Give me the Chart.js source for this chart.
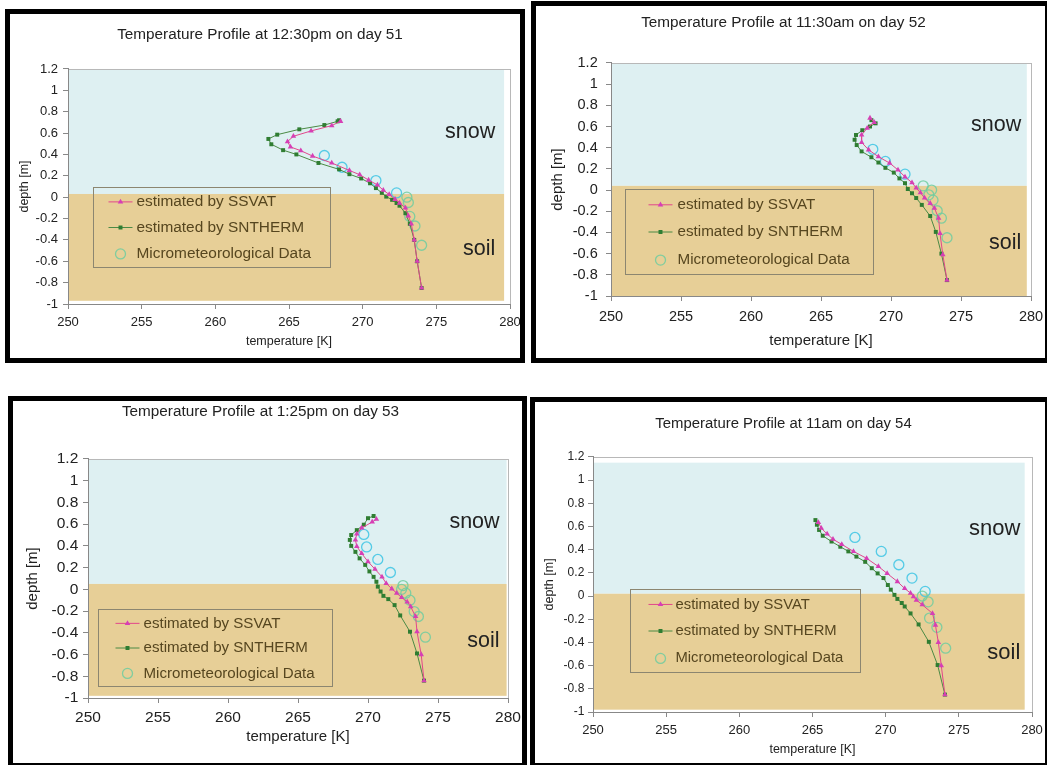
<!DOCTYPE html>
<html>
<head>
<meta charset="utf-8">
<title>Temperature profiles</title>
<script src="https://cdn.jsdelivr.net/npm/chart.js@4.4.0/dist/chart.umd.min.js"></script>
<style>
  html, body { margin: 0; padding: 0; background: #fff; overflow: hidden; }
  .panel { position: absolute; border: 5px solid #000; box-sizing: border-box; background: #fff; overflow: hidden; }
  .panel canvas { display: block; }
</style>
</head>
<body>
<div class="panel" style="left:5px;top:9px;width:520px;height:354px"><canvas id="c51" width="510" height="344"></canvas></div>
<div class="panel" style="left:531px;top:1px;width:519px;height:362px"><canvas id="c52" width="509" height="352"></canvas></div>
<div class="panel" style="left:8px;top:396px;width:519px;height:372px"><canvas id="c53" width="509" height="362"></canvas></div>
<div class="panel" style="left:530px;top:397px;width:520px;height:371px"><canvas id="c54" width="510" height="361"></canvas></div>

<script>
// axes
var xTicks = [250, 255, 260, 265, 270, 275, 280];
var yTicks = [-1, -0.8, -0.6, -0.4, -0.2, 0, 0.2, 0.4, 0.6, 0.8, 1, 1.2];
var seriesNames = ["estimated by SSVAT", "estimated by SNTHERM", "Micrometeorological Data"];

// [temperature K, depth m]
var ssvat51 = [[268.5,0.71],[267.9,0.67],[266.5,0.62],[265.3,0.57],[264.9,0.52],[265.1,0.47],[265.8,0.435],[266.6,0.385],[267.9,0.32],[269.1,0.25],[269.8,0.21],[270.4,0.16],[271.0,0.115],[271.4,0.065],[271.8,0.025],[272.2,-0.02],[272.5,-0.055],[272.9,-0.1],[273.1,-0.175],[273.3,-0.25],[273.5,-0.4],[273.7,-0.6],[274.0,-0.85]];
var sntherm51 = [[268.4,0.72],[268.3,0.71],[267.4,0.675],[265.7,0.635],[264.2,0.585],[263.6,0.545],[263.8,0.495],[264.6,0.44],[265.5,0.4],[267.0,0.32],[268.4,0.26],[269.1,0.215],[269.9,0.175],[270.5,0.13],[270.9,0.085],[271.3,0.04],[271.6,0.005],[272.0,-0.025],[272.3,-0.055],[272.5,-0.08],[272.9,-0.15],[273.2,-0.25],[273.5,-0.4],[273.7,-0.6],[274.0,-0.85]];
var micro51 = [[267.4,0.39],[268.6,0.28],[270.9,0.155],[272.3,0.04],[273.0,0.0],[273.1,-0.05],[273.2,-0.18],[273.55,-0.27],[274.0,-0.45]];

var ssvat52 = [[268.5,0.68],[268.8,0.64],[268.3,0.585],[267.9,0.52],[267.9,0.45],[268.4,0.38],[269.1,0.315],[269.9,0.255],[270.5,0.19],[271.0,0.125],[271.5,0.07],[271.8,0.02],[272.1,-0.025],[272.4,-0.075],[272.8,-0.125],[273.1,-0.17],[273.4,-0.265],[273.5,-0.41],[273.7,-0.61],[274.0,-0.85]];
var sntherm52 = [[268.6,0.66],[268.9,0.63],[268.5,0.6],[267.95,0.565],[267.5,0.52],[267.4,0.475],[267.55,0.425],[267.9,0.365],[268.6,0.31],[269.1,0.26],[269.6,0.21],[270.2,0.165],[270.6,0.11],[271.0,0.065],[271.2,0.01],[271.5,-0.03],[271.8,-0.075],[272.2,-0.14],[272.8,-0.245],[273.2,-0.395],[273.6,-0.6],[274.0,-0.85]];
var micro52 = [[268.7,0.385],[269.6,0.27],[271.0,0.15],[272.3,0.04],[272.9,0.0],[272.7,-0.045],[273.0,-0.095],[273.3,-0.195],[273.6,-0.265],[274.0,-0.45]];

var ssvat53 = [[270.6,0.645],[270.3,0.62],[269.55,0.565],[269.2,0.51],[269.1,0.455],[269.2,0.395],[269.55,0.33],[270.0,0.255],[270.5,0.185],[271.0,0.115],[271.3,0.055],[271.7,0.005],[272.05,-0.035],[272.4,-0.075],[272.8,-0.115],[273.05,-0.16],[273.4,-0.25],[273.5,-0.39],[273.8,-0.6],[274.0,-0.84]];
var sntherm53 = [[270.4,0.675],[270.0,0.655],[269.7,0.595],[269.2,0.545],[268.8,0.5],[268.7,0.455],[268.8,0.4],[269.1,0.345],[269.4,0.285],[269.8,0.225],[270.1,0.165],[270.4,0.115],[270.6,0.07],[270.7,0.025],[270.9,-0.02],[271.1,-0.06],[271.45,-0.09],[271.9,-0.145],[272.3,-0.24],[273.0,-0.39],[273.5,-0.59],[274.0,-0.84]];
var micro53 = [[269.7,0.505],[269.9,0.39],[270.7,0.275],[271.6,0.155],[272.5,0.035],[272.4,0.0],[272.7,-0.035],[273.0,-0.1],[273.3,-0.205],[273.6,-0.25],[274.1,-0.44]];

var ssvat54 = [[265.4,0.635],[265.6,0.585],[266.0,0.535],[266.4,0.49],[267.0,0.445],[267.8,0.385],[268.7,0.325],[269.5,0.255],[270.1,0.195],[270.8,0.125],[271.3,0.065],[271.7,0.025],[271.9,-0.005],[272.1,-0.035],[272.5,-0.075],[273.2,-0.15],[273.4,-0.25],[273.6,-0.4],[273.8,-0.6],[274.05,-0.85]];
var sntherm54 = [[265.2,0.655],[265.3,0.615],[265.45,0.57],[265.7,0.52],[266.3,0.47],[266.9,0.425],[267.45,0.385],[268.0,0.34],[268.6,0.295],[269.05,0.24],[269.45,0.195],[269.85,0.155],[270.15,0.095],[270.35,0.055],[270.6,0.01],[270.8,-0.025],[271.1,-0.06],[271.3,-0.09],[271.7,-0.15],[272.25,-0.245],[272.95,-0.395],[273.55,-0.595],[274.05,-0.85]];
var micro54 = [[267.9,0.505],[269.7,0.385],[270.9,0.27],[271.8,0.155],[272.7,0.04],[272.5,0.0],[272.9,-0.05],[273.0,-0.19],[273.5,-0.27],[274.1,-0.45]];

var FONT = "'Liberation Sans', Arial, sans-serif";
var SNOW_RING = "rgba(60, 196, 228, 0.85)";
var SOIL_RING = "rgba(110, 205, 160, 0.85)";

// per panel layout, tuned against the scanned figure
var panels = [
  {
    id: "c51", title: "Temperature Profile at 12:30pm on day 51",
    ssvat: ssvat51, sntherm: sntherm51, micro: micro51,
    padRight: 10, titleFont: 15.3, titlePad: [11.8, 24.8],
    xH: 54, xTickFont: 13, xTickPad: 6, xTitleFont: 12.5, xTitlePad: 8.5,
    yW: 58, yTickFont: 13, yTickPad: 5, yTitleFont: 12.5, yTitlePad: 7.5,
    bands: { right: 279.6, top: 1.2, surface: 0.03, bottom: -0.97 },
    legend: { x0: 251.7, x1: 267.8, y0: 0.093, y1: -0.656, lineX: 15, textX: 43, font: 15.4 },
    snow: [279, 0.61], soil: [279, -0.49], labelFont: 21.5
  },
  {
    id: "c52", title: "Temperature Profile at 11:30am on day 52",
    ssvat: ssvat52, sntherm: sntherm52, micro: micro52,
    padRight: 14, titleFont: 15.3, titlePad: [7.8, 30.8],
    xH: 62, xTickFont: 14.5, xTickPad: 7.3, xTitleFont: 15, xTitlePad: 8,
    yW: 75, yTickFont: 14.5, yTickPad: 8.3, yTitleFont: 15, yTitlePad: 13,
    bands: { right: 279.7, top: 1.2, surface: 0.04, bottom: -1 },
    legend: { x0: 251.0, x1: 268.7, y0: 0.008, y1: -0.79, lineX: 23, textX: 52, font: 15.2 },
    snow: [279.3, 0.61], soil: [279.3, -0.5], labelFont: 21.5
  },
  {
    id: "c53", title: "Temperature Profile at 1:25pm on day 53",
    ssvat: ssvat53, sntherm: sntherm53, micro: micro53,
    padRight: 14, titleFont: 15.3, titlePad: [1.8, 37.8],
    xH: 65, xTickFont: 15.5, xTickPad: 5.7, xTitleFont: 15, xTitlePad: 17,
    yW: 75, yTickFont: 15.5, yTickPad: 4.7, yTitleFont: 15, yTitlePad: 11.3,
    bands: { right: 279.9, top: 1.2, surface: 0.05, bottom: -0.98 },
    legend: { x0: 250.7, x1: 267.4, y0: -0.18, y1: -0.887, lineX: 17, textX: 45, font: 15.1 },
    snow: [279.4, 0.62], soil: [279.4, -0.475], labelFont: 21.5
  },
  {
    id: "c54", title: "Temperature Profile at 11am on day 54",
    ssvat: ssvat54, sntherm: sntherm54, micro: micro54,
    padRight: 13, titleFont: 14.9, titlePad: [13, 24],
    xH: 51, xTickFont: 13, xTickPad: 5.2, xTitleFont: 12.5, xTitlePad: 5.5,
    yW: 58, yTickFont: 12, yTickPad: 3.7, yTitleFont: 12.5, yTitlePad: 7.5,
    bands: { right: 279.5, top: 1.15, surface: 0.02, bottom: -0.98 },
    legend: { x0: 252.5, x1: 268.25, y0: 0.061, y1: -0.657, lineX: 18, textX: 45, font: 14.8 },
    snow: [279.2, 0.58], soil: [279.2, -0.49], labelFont: 22
  }
];

function toPoints(arr) {
  return arr.map(function (p) { return { x: p[0], y: p[1] }; });
}

function drawMarker(ctx, style, cx, cy, r) {
  ctx.beginPath();
  if (style === "triangle") {
    ctx.moveTo(cx, cy - r);
    ctx.lineTo(cx + r * 0.87, cy + r * 0.5);
    ctx.lineTo(cx - r * 0.87, cy + r * 0.5);
    ctx.closePath();
    ctx.fill();
  } else if (style === "rect") {
    ctx.rect(cx - r * 0.71, cy - r * 0.71, r * 1.42, r * 1.42);
    ctx.fill();
  } else {
    ctx.arc(cx, cy, r, 0, Math.PI * 2);
    ctx.stroke();
  }
}

// snow / soil backgrounds, plot frame, legend box and the layer labels
var panelDecor = {
  id: "panelDecor",
  beforeDraw: function (chart, args, opts) {
    var ctx = chart.ctx, area = chart.chartArea;
    var xs = chart.scales.x, ys = chart.scales.y, b = opts.bands;
    var left = xs.getPixelForValue(250), right = xs.getPixelForValue(b.right);
    var top = ys.getPixelForValue(b.top), surf = ys.getPixelForValue(b.surface), bot = ys.getPixelForValue(b.bottom);
    ctx.save();
    ctx.fillStyle = "#def0f2";
    ctx.fillRect(left, top, right - left, surf - top);
    ctx.fillStyle = "#e7cf97";
    ctx.fillRect(left, surf, right - left, bot - surf);
    ctx.strokeStyle = "#b8b8b8";
    ctx.lineWidth = 1;
    ctx.strokeRect(Math.round(area.left) + 0.5, Math.round(area.top) + 0.5, Math.round(area.width), Math.round(area.height));
    ctx.restore();
  },
  afterDatasetsDraw: function (chart, args, opts) {
    var ctx = chart.ctx;
    var xs = chart.scales.x, ys = chart.scales.y, lg = opts.legend;
    var bx0 = Math.round(xs.getPixelForValue(lg.x0)) + 0.5, bx1 = Math.round(xs.getPixelForValue(lg.x1)) + 0.5;
    var by0 = Math.round(ys.getPixelForValue(lg.y0)) + 0.5, by1 = Math.round(ys.getPixelForValue(lg.y1)) + 0.5;
    var rows = [0.18, 0.5, 0.83];
    ctx.save();
    ctx.strokeStyle = "#8c8670";
    ctx.lineWidth = 1;
    ctx.strokeRect(bx0, by0, bx1 - bx0, by1 - by0);

    chart.data.datasets.forEach(function (ds, i) {
      var ry = by0 + (by1 - by0) * rows[i];
      var lx = bx0 + lg.lineX;
      if (ds.showLine) {
        ctx.strokeStyle = ds.borderColor;
        ctx.lineWidth = 1;
        ctx.beginPath();
        ctx.moveTo(lx, ry);
        ctx.lineTo(lx + 24, ry);
        ctx.stroke();
      }
      ctx.fillStyle = ds.pointBackgroundColor;
      ctx.strokeStyle = typeof ds.pointBorderColor === "function" ? SOIL_RING : ds.pointBorderColor;
      ctx.lineWidth = ds.pointBorderWidth || 1;
      drawMarker(ctx, ds.pointStyle, lx + 12, ry, ds.pointRadius);

      ctx.fillStyle = "#56461f";
      ctx.font = lg.font + "px " + FONT;
      ctx.textAlign = "left";
      ctx.textBaseline = "middle";
      ctx.fillText(ds.label, bx0 + lg.textX, ry);
    });

    ctx.fillStyle = "#222";
    ctx.font = opts.labelFont + "px " + FONT;
    ctx.textAlign = "right";
    ctx.textBaseline = "middle";
    ctx.fillText("snow", xs.getPixelForValue(opts.snow[0]), ys.getPixelForValue(opts.snow[1]));
    ctx.fillText("soil", xs.getPixelForValue(opts.soil[0]), ys.getPixelForValue(opts.soil[1]));
    ctx.restore();
  }
};

panels.forEach(function (p) {
  var ctx = document.getElementById(p.id).getContext("2d");

  new Chart(ctx, {
    type: "scatter",
    data: {
      datasets: [
        {
          label: seriesNames[0],
          data: toPoints(p.ssvat),
          showLine: true,
          tension: 0,
          borderColor: "#e2478a",
          borderWidth: 1,
          pointStyle: "triangle",
          pointRadius: 3.2,
          pointBackgroundColor: "#d63fb5",
          pointBorderColor: "#d63fb5",
          pointBorderWidth: 0,
        },
        {
          label: seriesNames[1],
          data: toPoints(p.sntherm),
          showLine: true,
          tension: 0,
          borderColor: "#4b8a45",
          borderWidth: 1,
          pointStyle: "rect",
          pointRadius: 2.8,
          pointBackgroundColor: "#2f7d32",
          pointBorderColor: "#2f7d32",
          pointBorderWidth: 0,
        },
        {
          label: seriesNames[2],
          data: toPoints(p.micro),
          showLine: false,
          pointStyle: "circle",
          pointRadius: 5,
          pointBackgroundColor: "rgba(0, 0, 0, 0)",
          pointBorderColor: function (c) {
            return c.raw && c.raw.y > p.bands.surface ? SNOW_RING : SOIL_RING;
          },
          pointBorderWidth: 1.3,
        },
      ],
    },
    options: {
      responsive: false,
      animation: false,
      events: [],
      layout: {
        padding: { left: 0, right: p.padRight, top: 0, bottom: 0 },
      },
      plugins: {
        legend: { display: false },
        tooltip: { enabled: false },
        title: {
          display: true,
          text: p.title,
          color: "#222",
          padding: { top: p.titlePad[0], bottom: p.titlePad[1] },
          font: { size: p.titleFont, weight: "normal", family: FONT, lineHeight: 1.2 },
        },
        panelDecor: {
          bands: p.bands,
          legend: p.legend,
          snow: p.snow,
          soil: p.soil,
          labelFont: p.labelFont,
        },
      },
      scales: {
        x: {
          type: "linear",
          min: 250,
          max: 280,
          afterBuildTicks: function (scale) {
            scale.ticks = xTicks.map(function (v) { return { value: v }; });
          },
          afterFit: function (scale) {
            scale.height = p.xH;
            // let the last label run into the frame, as in the scan
            scale.paddingLeft = 0;
            scale.paddingRight = 0;
          },
          grid: {
            display: true,
            drawOnChartArea: false,
            drawTicks: true,
            tickLength: 5,
            color: "#888",
          },
          border: { color: "#888" },
          ticks: {
            color: "#222",
            padding: p.xTickPad,
            maxRotation: 0,
            font: { size: p.xTickFont, family: FONT, lineHeight: 1.2 },
            callback: function (v) { return String(v); },
          },
          title: {
            display: true,
            text: "temperature [K]",
            color: "#222",
            padding: { top: 0, bottom: p.xTitlePad },
            font: { size: p.xTitleFont, family: FONT, lineHeight: 1.2 },
          },
        },
        y: {
          type: "linear",
          min: -1,
          max: 1.2,
          afterBuildTicks: function (scale) {
            scale.ticks = yTicks.map(function (v) { return { value: v }; });
          },
          afterFit: function (scale) {
            scale.width = p.yW;
          },
          grid: {
            display: true,
            drawOnChartArea: false,
            drawTicks: true,
            tickLength: 5,
            color: "#888",
          },
          border: { color: "#888" },
          ticks: {
            color: "#222",
            padding: p.yTickPad,
            font: { size: p.yTickFont, family: FONT, lineHeight: 1.2 },
            callback: function (v) { return String(v); },
          },
          title: {
            display: true,
            text: "depth [m]",
            color: "#222",
            padding: { top: p.yTitlePad, bottom: 0 },
            font: { size: p.yTitleFont, family: FONT, lineHeight: 1.2 },
          },
        },
      },
    },
    plugins: [panelDecor],
  });
});
</script>
</body>
</html>
